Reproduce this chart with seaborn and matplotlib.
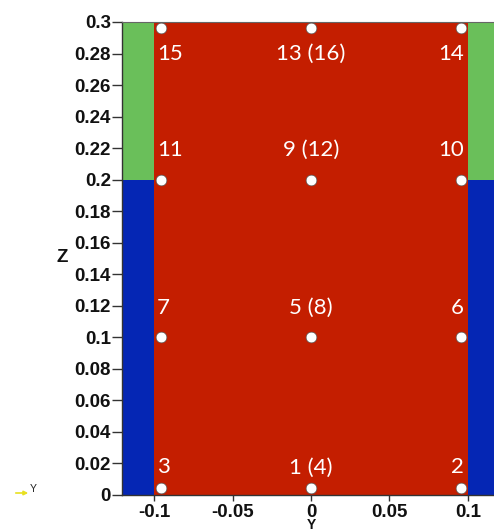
import matplotlib
matplotlib.use("Agg")
import matplotlib.pyplot as plt
import seaborn as sns
import pandas as pd

# Material regions of the cross-section (Y range, Z range, colour)
region_y0 = [-0.15, -0.10, 0.10, -0.15, 0.10]
region_y1 = [-0.10, 0.10, 0.15, -0.10, 0.15]
region_z0 = [0.0, 0.0, 0.0, 0.2, 0.2]
region_z1 = [0.2, 0.3, 0.2, 0.3, 0.3]
region_col = ["#0526b4", "#c41e00", "#0526b4", "#6abf5a", "#6abf5a"]

# Probe points
point_y = [-0.0955, 0.0, 0.0955,
           -0.0955, 0.0, 0.0955,
           -0.0955, 0.0, 0.0955,
           -0.0955, 0.0, 0.0955]
point_z = [0.0045, 0.0045, 0.0045,
           0.1, 0.1, 0.1,
           0.1995, 0.1995, 0.1995,
           0.296, 0.296, 0.296]

# Point labels
label_text = ["3", "1 (4)", "2",
              "7", "5 (8)", "6",
              "11", "9 (12)", "10",
              "15", "13 (16)", "14"]
label_y = [-0.098, 0.0, 0.0975] * 4
label_z = [0.0175] * 3 + [0.1185] * 3 + [0.219] * 3 + [0.2795] * 3
label_ha = ["left", "center", "right"] * 4

y_ticks = [-0.1, -0.05, 0.0, 0.05, 0.1]
y_tick_labels = ["-0.1", "-0.05", "0", "0.05", "0.1"]
z_ticks = [0.0, 0.02, 0.04, 0.06, 0.08, 0.1, 0.12, 0.14, 0.16, 0.18,
           0.2, 0.22, 0.24, 0.26, 0.28, 0.3]
z_tick_labels = ["0", "0.02", "0.04", "0.06", "0.08", "0.1", "0.12", "0.14",
                 "0.16", "0.18", "0.2", "0.22", "0.24", "0.26", "0.28", "0.3"]

sns.set_theme(style="white")
plt.rcParams["font.family"] = ["Liberation Sans", "DejaVu Sans"]

fig = plt.figure(figsize=(4.94, 5.31), dpi=100)
ax = fig.add_axes([0.247, 0.0678, 0.753, 0.8908])

for y0, y1, z0, z1, c in zip(region_y0, region_y1, region_z0, region_z1, region_col):
    ax.bar(y0, z1 - z0, width=y1 - y0, bottom=z0, align="edge",
           color=c, linewidth=0, zorder=1)

pts = pd.DataFrame({"Y": point_y, "Z": point_z})
sns.scatterplot(data=pts, x="Y", y="Z", ax=ax, s=60, color="white",
                edgecolor="#555555", linewidth=0.5, zorder=4, legend=False)

for t, x, z, ha in zip(label_text, label_y, label_z, label_ha):
    ax.text(x, z, t, ha=ha, va="center", color="white", fontsize=16,
            family=["Lato", "DejaVu Sans"], zorder=5)

ax.set_xlim(-0.1204, 0.1166)
ax.set_ylim(0.0, 0.3)
ax.set_xticks(y_ticks)
ax.set_xticklabels(y_tick_labels)
ax.set_yticks(z_ticks)
ax.set_yticklabels(z_tick_labels)
ax.tick_params(axis="y", direction="out", length=7, width=1, color="#333333",
               pad=1, labelsize=13.5, left=True)
ax.tick_params(axis="x", direction="inout", length=9, width=1, color="#333333",
               pad=2, labelsize=13.5, bottom=True)
for lab in ax.get_xticklabels() + ax.get_yticklabels():
    lab.set_fontweight("bold")
    lab.set_color("#111111")

for side in ["left", "bottom"]:
    ax.spines[side].set_color("#333333")
    ax.spines[side].set_linewidth(1.0)
ax.spines["top"].set_color("#666666")
ax.spines["top"].set_linewidth(0.8)
ax.spines["right"].set_visible(False)

ax.set_xlabel("")
ax.set_ylabel("")
fig.text(62 / 494, 1 - 258 / 531, "Z", ha="center", va="center",
         fontsize=13.5, fontweight="bold", color="#111111")
fig.text(311 / 494, 1 - 525 / 531, "Y", ha="center", va="center",
         fontsize=10, fontweight="bold", color="#111111")

# Orientation indicator
fig.add_artist(matplotlib.patches.FancyArrowPatch(
    (13 / 494, 1 - 493 / 531), (31 / 494, 1 - 493 / 531),
    transform=fig.transFigure, arrowstyle="-|>", mutation_scale=6,
    color="#e8e020", linewidth=1.2))
fig.text(33 / 494, 1 - 489 / 531, "Y", ha="center", va="center",
         fontsize=7.5, color="#222222")

fig.savefig("out.png", dpi=100)
